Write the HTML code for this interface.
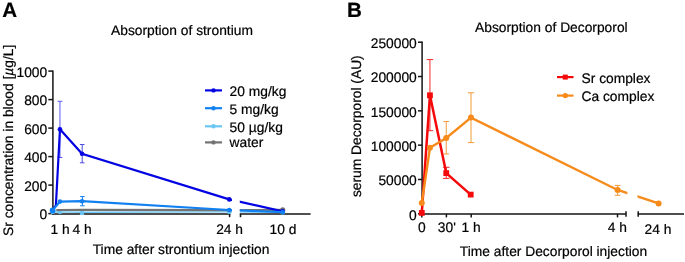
<!DOCTYPE html>
<html><head><meta charset="utf-8"><style>
html,body{margin:0;padding:0;background:#fff;width:685px;height:262px;overflow:hidden}
svg{display:block;will-change:transform}
text{font-family:"Liberation Sans",sans-serif;text-rendering:geometricPrecision;stroke:#000;stroke-width:0.2px}
</style></head><body>
<svg width="685" height="262" viewBox="0 0 685 262" font-family="Liberation Sans, sans-serif" fill="#000">
<defs><clipPath id="ca"><rect x="0" y="0" width="232" height="262"/><rect x="239.8" y="0" width="80" height="262"/></clipPath><clipPath id="cb"><rect x="400" y="0" width="227.4" height="262"/><rect x="637.5" y="0" width="60" height="262"/></clipPath></defs>
<rect width="685" height="262" fill="#fff"/>
<text x="2.3" y="17.4" font-size="20.6" text-anchor="start" font-weight="bold">A</text>
<text x="111" y="35" font-size="13.8" text-anchor="start" >Absorption of strontium</text>
<line x1="52.90" y1="70.40" x2="52.90" y2="214.60" stroke="#141414" stroke-width="1.5" />
<line x1="48.30" y1="213.60" x2="52.90" y2="213.60" stroke="#141414" stroke-width="1.5" />
<text x="47.2" y="219.4" font-size="13.8" text-anchor="end" >0</text>
<line x1="48.30" y1="185.10" x2="52.90" y2="185.10" stroke="#141414" stroke-width="1.5" />
<text x="47.2" y="190.9" font-size="13.8" text-anchor="end" >200</text>
<line x1="48.30" y1="156.60" x2="52.90" y2="156.60" stroke="#141414" stroke-width="1.5" />
<text x="47.2" y="162.4" font-size="13.8" text-anchor="end" >400</text>
<line x1="48.30" y1="128.10" x2="52.90" y2="128.10" stroke="#141414" stroke-width="1.5" />
<text x="47.2" y="133.90000000000003" font-size="13.8" text-anchor="end" >600</text>
<line x1="48.30" y1="99.60" x2="52.90" y2="99.60" stroke="#141414" stroke-width="1.5" />
<text x="47.2" y="105.4" font-size="13.8" text-anchor="end" >800</text>
<line x1="48.30" y1="71.10" x2="52.90" y2="71.10" stroke="#141414" stroke-width="1.5" />
<text x="47.2" y="76.89999999999999" font-size="13.8" text-anchor="end" >1000</text>
<text transform="translate(12.6,140.3) rotate(-90)" font-size="13.8" text-anchor="middle">Sr concentration in blood [<tspan font-style="italic">µ</tspan>g/L]</text>
<line x1="52.00" y1="213.90" x2="230.30" y2="213.90" stroke="#141414" stroke-width="1.5" />
<line x1="239.80" y1="213.90" x2="310.60" y2="213.90" stroke="#141414" stroke-width="1.5" />
<line x1="229.60" y1="213.90" x2="229.60" y2="217.20" stroke="#141414" stroke-width="1.5" />
<line x1="240.50" y1="213.90" x2="240.50" y2="217.20" stroke="#141414" stroke-width="1.5" />
<text x="60.2" y="233.6" font-size="13.8" text-anchor="middle" >1 h</text>
<text x="82.1" y="233.6" font-size="13.8" text-anchor="middle" >4 h</text>
<text x="229.6" y="233.6" font-size="13.8" text-anchor="middle" >24 h</text>
<text x="282.9" y="233.6" font-size="13.8" text-anchor="middle" >10 d</text>
<text x="181" y="254" font-size="13.8" text-anchor="middle" >Time after strontium injection</text>
<line x1="82.04" y1="209.50" x2="82.04" y2="214.50" stroke="#6cc6f4" stroke-width="1" />
<line x1="79.84" y1="209.50" x2="84.24" y2="209.50" stroke="#6cc6f4" stroke-width="1" />
<line x1="79.84" y1="214.50" x2="84.24" y2="214.50" stroke="#6cc6f4" stroke-width="1" />
<polyline points="52.60,212.00 59.96,211.90 82.04,212.20 229.24,211.90 282.70,212.40" fill="none" stroke="#6cc6f4" stroke-width="1.4" stroke-linejoin="miter" clip-path="url(#ca)"/>
<circle cx="52.60" cy="212.00" r="2.2" fill="#6cc6f4"/>
<circle cx="59.96" cy="211.90" r="2.2" fill="#6cc6f4"/>
<circle cx="82.04" cy="212.20" r="2.2" fill="#6cc6f4"/>
<circle cx="229.24" cy="211.90" r="2.2" fill="#6cc6f4"/>
<circle cx="282.70" cy="212.40" r="2.2" fill="#6cc6f4"/>
<polyline points="56.28,210.20 59.96,210.00 82.04,209.80 229.24,210.20 282.70,209.80" fill="none" stroke="#737373" stroke-width="2.2" stroke-linejoin="miter" clip-path="url(#ca)"/>
<circle cx="282.70" cy="209.80" r="2.6" fill="#737373"/>
<line x1="59.96" y1="101.30" x2="59.96" y2="157.50" stroke="#5a5af0" stroke-width="1" />
<line x1="57.56" y1="101.30" x2="62.36" y2="101.30" stroke="#5a5af0" stroke-width="1" />
<line x1="57.56" y1="157.50" x2="62.36" y2="157.50" stroke="#5a5af0" stroke-width="1" />
<line x1="82.20" y1="144.50" x2="82.20" y2="162.80" stroke="#4a4ae0" stroke-width="1" />
<line x1="79.90" y1="144.50" x2="84.50" y2="144.50" stroke="#4a4ae0" stroke-width="1" />
<line x1="79.90" y1="162.80" x2="84.50" y2="162.80" stroke="#4a4ae0" stroke-width="1" />
<polyline points="52.60,210.20 55.91,205.40 59.96,129.30 82.04,153.70 229.24,199.40 282.70,211.40" fill="none" stroke="#0404e2" stroke-width="2.2" stroke-linejoin="miter" clip-path="url(#ca)"/>
<circle cx="52.60" cy="210.20" r="2.3" fill="#0404e2"/>
<circle cx="59.96" cy="129.30" r="2.3" fill="#0404e2"/>
<circle cx="82.04" cy="153.70" r="2.3" fill="#0404e2"/>
<circle cx="229.24" cy="199.40" r="2.3" fill="#0404e2"/>
<circle cx="282.70" cy="211.40" r="2.3" fill="#0404e2"/>
<line x1="82.40" y1="196.60" x2="82.40" y2="205.80" stroke="#1180f0" stroke-width="1" />
<line x1="80.10" y1="196.60" x2="84.70" y2="196.60" stroke="#1180f0" stroke-width="1" />
<line x1="80.10" y1="205.80" x2="84.70" y2="205.80" stroke="#1180f0" stroke-width="1" />
<polyline points="52.60,210.40 59.96,201.60 82.04,201.20 229.24,210.00 282.70,212.20" fill="none" stroke="#1180f0" stroke-width="2.2" stroke-linejoin="miter" clip-path="url(#ca)"/>
<circle cx="52.60" cy="210.40" r="2.3" fill="#1180f0"/>
<circle cx="59.96" cy="201.60" r="2.3" fill="#1180f0"/>
<circle cx="82.04" cy="201.20" r="2.3" fill="#1180f0"/>
<circle cx="229.24" cy="210.00" r="2.3" fill="#1180f0"/>
<circle cx="282.70" cy="212.20" r="2.3" fill="#1180f0"/>
<circle cx="52.60" cy="210.40" r="2.9" fill="#1180f0"/>
<line x1="205.00" y1="90.40" x2="222.00" y2="90.40" stroke="#0404e2" stroke-width="2.2" />
<circle cx="213.50" cy="90.40" r="2.2" fill="#0404e2"/>
<text x="229.6" y="95.9" font-size="13.8" text-anchor="start" >20 mg/kg</text>
<line x1="205.00" y1="108.20" x2="222.00" y2="108.20" stroke="#1180f0" stroke-width="2.2" />
<circle cx="213.50" cy="108.20" r="2.2" fill="#1180f0"/>
<text x="229.6" y="114.0" font-size="13.8" text-anchor="start" >5 mg/kg</text>
<line x1="205.00" y1="126.30" x2="222.00" y2="126.30" stroke="#6cc6f4" stroke-width="2.2" />
<circle cx="213.50" cy="126.30" r="2.2" fill="#6cc6f4"/>
<text x="229.6" y="132.1" font-size="13.8" text-anchor="start" >50 µg/kg</text>
<line x1="205.00" y1="142.40" x2="222.00" y2="142.40" stroke="#737373" stroke-width="2.2" />
<circle cx="213.50" cy="142.40" r="2.2" fill="#737373"/>
<text x="229.6" y="147.3" font-size="13.8" text-anchor="start" >water</text>
<text x="347.0" y="17.4" font-size="20.6" text-anchor="start" font-weight="bold">B</text>
<text x="475" y="31.8" font-size="13.8" text-anchor="start" >Absorption of Decorporol</text>
<line x1="422.10" y1="41.60" x2="422.10" y2="214.60" stroke="#141414" stroke-width="1.5" />
<line x1="418.00" y1="213.80" x2="422.10" y2="213.80" stroke="#141414" stroke-width="1.5" />
<text x="416.8" y="219.60000000000002" font-size="13.8" text-anchor="end" >0</text>
<line x1="418.00" y1="179.48" x2="422.10" y2="179.48" stroke="#141414" stroke-width="1.5" />
<text x="416.8" y="185.28000000000003" font-size="13.8" text-anchor="end" >50000</text>
<line x1="418.00" y1="145.16" x2="422.10" y2="145.16" stroke="#141414" stroke-width="1.5" />
<text x="416.8" y="150.96000000000004" font-size="13.8" text-anchor="end" >100000</text>
<line x1="418.00" y1="110.84" x2="422.10" y2="110.84" stroke="#141414" stroke-width="1.5" />
<text x="416.8" y="116.64" font-size="13.8" text-anchor="end" >150000</text>
<line x1="418.00" y1="76.52" x2="422.10" y2="76.52" stroke="#141414" stroke-width="1.5" />
<text x="416.8" y="82.32000000000001" font-size="13.8" text-anchor="end" >200000</text>
<line x1="418.00" y1="42.20" x2="422.10" y2="42.20" stroke="#141414" stroke-width="1.5" />
<text x="416.8" y="48.000000000000014" font-size="13.8" text-anchor="end" >250000</text>
<text transform="translate(360.7,126.2) rotate(-90)" font-size="13.8" text-anchor="middle">serum Decorporol (AU)</text>
<line x1="422.00" y1="213.90" x2="626.20" y2="213.90" stroke="#141414" stroke-width="1.5" />
<line x1="637.80" y1="213.90" x2="684.00" y2="213.90" stroke="#141414" stroke-width="1.5" />
<line x1="421.80" y1="213.90" x2="421.80" y2="217.40" stroke="#141414" stroke-width="1.5" />
<line x1="446.40" y1="213.90" x2="446.40" y2="217.40" stroke="#141414" stroke-width="1.5" />
<line x1="471.20" y1="213.90" x2="471.20" y2="217.40" stroke="#141414" stroke-width="1.5" />
<line x1="617.50" y1="213.90" x2="617.50" y2="217.40" stroke="#141414" stroke-width="1.5" />
<line x1="626.00" y1="211.20" x2="626.00" y2="216.80" stroke="#141414" stroke-width="1.5" />
<line x1="638.20" y1="211.20" x2="638.20" y2="216.80" stroke="#141414" stroke-width="1.5" />
<text x="421.9" y="232" font-size="13.8" text-anchor="middle" >0</text>
<text x="446.8" y="232" font-size="13.8" text-anchor="middle" >30'</text>
<text x="471.1" y="232" font-size="13.8" text-anchor="middle" >1 h</text>
<text x="617.4" y="231.7" font-size="13.8" text-anchor="middle" >4 h</text>
<text x="658" y="233.8" font-size="13.8" text-anchor="middle" >24 h</text>
<text x="553.5" y="255.8" font-size="13.8" text-anchor="middle" >Time after Decorporol injection</text>
<line x1="429.95" y1="59.60" x2="429.95" y2="130.70" stroke="#f22828" stroke-width="1" />
<line x1="426.65" y1="59.60" x2="433.25" y2="59.60" stroke="#f22828" stroke-width="1" />
<line x1="426.65" y1="130.70" x2="433.25" y2="130.70" stroke="#f22828" stroke-width="1" />
<line x1="446.25" y1="167.30" x2="446.25" y2="178.40" stroke="#f22828" stroke-width="1" />
<line x1="442.95" y1="167.30" x2="449.55" y2="167.30" stroke="#f22828" stroke-width="1" />
<line x1="442.95" y1="178.40" x2="449.55" y2="178.40" stroke="#f22828" stroke-width="1" />
<polyline points="421.80,212.90 429.95,95.30 446.25,173.10 470.70,194.60" fill="none" stroke="#f40a0a" stroke-width="2.5" stroke-linejoin="miter" />
<rect x="418.90" y="210.00" width="5.8" height="5.8" fill="#f40a0a"/>
<rect x="427.05" y="92.40" width="5.8" height="5.8" fill="#f40a0a"/>
<rect x="443.35" y="170.20" width="5.8" height="5.8" fill="#f40a0a"/>
<rect x="467.80" y="191.70" width="5.8" height="5.8" fill="#f40a0a"/>
<line x1="446.25" y1="121.50" x2="446.25" y2="154.00" stroke="#f49a3a" stroke-width="1" />
<line x1="443.45" y1="121.50" x2="449.05" y2="121.50" stroke="#f49a3a" stroke-width="1" />
<line x1="443.45" y1="154.00" x2="449.05" y2="154.00" stroke="#f49a3a" stroke-width="1" />
<line x1="471.00" y1="92.80" x2="471.00" y2="142.60" stroke="#f49a3a" stroke-width="1" />
<line x1="467.80" y1="92.80" x2="474.20" y2="92.80" stroke="#f49a3a" stroke-width="1" />
<line x1="467.80" y1="142.60" x2="474.20" y2="142.60" stroke="#f49a3a" stroke-width="1" />
<line x1="617.60" y1="185.40" x2="617.60" y2="195.30" stroke="#f49a3a" stroke-width="1" />
<line x1="614.70" y1="185.40" x2="620.50" y2="185.40" stroke="#f49a3a" stroke-width="1" />
<line x1="614.70" y1="195.30" x2="620.50" y2="195.30" stroke="#f49a3a" stroke-width="1" />
<polyline points="421.80,203.00 429.95,147.80 446.25,138.00 471.00,117.60 617.60,190.00 658.60,203.40" fill="none" stroke="#f68b1c" stroke-width="2.4" stroke-linejoin="miter" clip-path="url(#cb)"/>
<circle cx="421.80" cy="203.00" r="3.0" fill="#f68b1c"/>
<circle cx="429.95" cy="147.80" r="3.0" fill="#f68b1c"/>
<circle cx="446.25" cy="138.00" r="3.0" fill="#f68b1c"/>
<circle cx="471.00" cy="117.60" r="3.0" fill="#f68b1c"/>
<circle cx="617.60" cy="190.00" r="3.0" fill="#f68b1c"/>
<circle cx="658.60" cy="203.40" r="3.0" fill="#f68b1c"/>
<line x1="557.00" y1="77.10" x2="573.50" y2="77.10" stroke="#f40a0a" stroke-width="2.2" />
<rect x="562.80" y="74.60" width="5" height="5" fill="#f40a0a"/>
<line x1="557.00" y1="95.60" x2="573.50" y2="95.60" stroke="#f68b1c" stroke-width="2.2" />
<circle cx="565.30" cy="95.60" r="2.7" fill="#f68b1c"/>
<text x="581.5" y="82.6" font-size="13.8" text-anchor="start" >Sr complex</text>
<text x="581.5" y="101.1" font-size="13.8" text-anchor="start" >Ca complex</text>
</svg>
</body></html>
